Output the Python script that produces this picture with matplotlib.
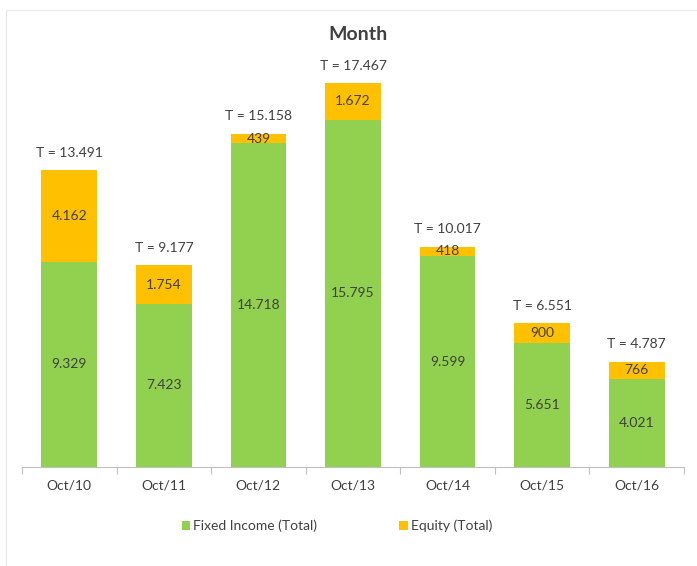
import matplotlib
matplotlib.use("Agg")
import matplotlib.pyplot as plt
from matplotlib.patches import Rectangle

categories = ["Oct/10", "Oct/11", "Oct/12", "Oct/13", "Oct/14", "Oct/15", "Oct/16"]
fixed_income = [9329, 7423, 14718, 15795, 9599, 5651, 4021]
equity = [4162, 1754, 439, 1672, 418, 900, 766]
totals = [13491, 9177, 15158, 17467, 10017, 6551, 4787]

GREEN = "#92D050"
ORANGE = "#FFC000"
TXT = "#404040"

plt.rcParams['font.family'] = ['Lato', 'DejaVu Sans']

def fmt(v):
    return f"{v:,}".replace(",", ".")

fig = plt.figure(figsize=(6.97, 5.66), dpi=100)
fig.patches.append(Rectangle((6/697, -0.1), 1.2, 1 - 10/566 + 0.1, transform=fig.transFigure,
                             fill=False, edgecolor="#E6E6E6", linewidth=0.8))
ax = fig.add_axes([22/697, 1 - 467/566, (684 - 22)/697, (467 - 50)/566])

x = list(range(len(categories)))
b1 = ax.bar(x, fixed_income, width=0.59, color=GREEN, label="Fixed Income (Total)")
b2 = ax.bar(x, equity, width=0.59, bottom=fixed_income, color=ORANGE, label="Equity (Total)")

for i in x:
    ax.text(i, fixed_income[i] / 2, fmt(fixed_income[i]), ha="center", va="center",
            fontsize=10, color=TXT)
    ax.text(i, fixed_income[i] + equity[i] / 2, fmt(equity[i]), ha="center", va="center",
            fontsize=10, color=TXT)
    ax.annotate(f"T = {fmt(totals[i])}", (i, fixed_income[i] + equity[i]),
                xytext=(0, 12.5), textcoords="offset points", ha="center", va="center",
                fontsize=10, color=TXT)

ax.set_xlim(-0.5, len(categories) - 0.5)
ax.set_ylim(0, 417 / 0.02198)
ax.set_xticks([i - 0.5 for i in range(len(categories) + 1)], minor=False)
ax.set_xticklabels([])
ax.set_xticks(x, minor=True)
ax.set_xticklabels(categories, minor=True, fontsize=10, color=TXT)
ax.tick_params(axis="x", which="major", length=5, color="#BFBFBF", width=0.8)
ax.tick_params(axis="x", which="minor", length=0, pad=9)
ax.set_yticks([])
for s in ["top", "right", "left"]:
    ax.spines[s].set_visible(False)
ax.spines["bottom"].set_color("#BFBFBF")
ax.spines["bottom"].set_linewidth(0.8)

fig.text(0.514, 1 - 34/566, "Month", ha="center", va="center", fontsize=14,
         fontweight="bold", color=TXT)

leg = fig.legend(handles=[b1, b2], loc="center", bbox_to_anchor=(337/697, 1 - 526/566),
                 ncol=2, frameon=False, fontsize=10, handlelength=0.6, handleheight=0.6,
                 handletextpad=0.25, columnspacing=5.9, labelcolor=TXT)

fig.savefig("out.png", dpi=100)
